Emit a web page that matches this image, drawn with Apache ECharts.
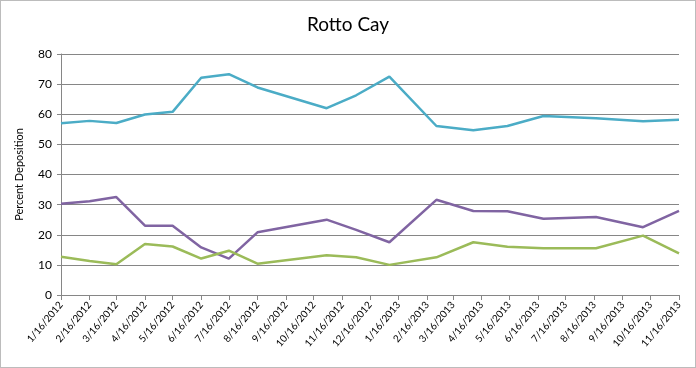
<!DOCTYPE html>
<html>
<head>
<meta charset="utf-8">
<script src="https://cdn.jsdelivr.net/npm/echarts@6/dist/echarts.min.js"></script>
<style>
html,body{margin:0;padding:0;background:#fff;}
#wrap{position:absolute;left:0;top:0;width:694px;height:366px;border:1px solid #bcbcbc;}
#chart{width:694px;height:366px;}
</style>
</head>
<body>
<div id="wrap"><div id="chart"></div></div>
<script>
// Sampling dates (x values)
const sampleDates = ['2012-01-16','2012-02-16','2012-03-16','2012-04-16','2012-05-16','2012-06-16','2012-07-16','2012-08-16','2012-10-30','2012-12-01','2013-01-06','2013-02-26','2013-04-07','2013-05-14','2013-06-22','2013-08-18','2013-10-08','2013-11-16'];
// Series values
const blueVals   = [57.0,57.8,57.1,59.9,60.8,72.1,73.3,68.9,62.0,66.3,72.5,56.1,54.7,56.1,59.4,58.7,57.7,58.2];
const purpleVals = [30.3,31.1,32.5,23.0,23.0,15.8,12.1,20.8,25.0,21.6,17.5,31.6,27.9,27.8,25.3,25.9,22.5,27.9];
const greenVals  = [12.7,11.3,10.2,16.9,16.1,12.1,14.7,10.4,13.2,12.5,10.0,12.5,17.5,16.0,15.5,15.5,19.7,13.8];
// Tick labels on the date axis
const tickLabels = ['1/16/2012','2/16/2012','3/16/2012','4/16/2012','5/16/2012','6/16/2012','7/16/2012','8/16/2012','9/16/2012','10/16/2012','11/16/2012','12/16/2012','1/16/2013','2/16/2013','3/16/2013','4/16/2013','5/16/2013','6/16/2013','7/16/2013','8/16/2013','9/16/2013','10/16/2013','11/16/2013'];

const DAY = 86400000;
function isoToDay(s){const p=s.split('-').map(Number);return Math.round(Date.UTC(p[0],p[1]-1,p[2])/DAY);}
function mdyToDay(s){const p=s.split('/').map(Number);return Math.round(Date.UTC(p[2],p[0]-1,p[1])/DAY);}
const xs = sampleDates.map(isoToDay);
const tickDays = tickLabels.map(mdyToDay);
function pair(vals){return vals.map((v,i)=>[xs[i],v]);}
function dayToLabel(v){const d=new Date(v*DAY);return (d.getUTCMonth()+1)+'/'+d.getUTCDate()+'/'+d.getUTCFullYear();}

const font = 'Lato, "Liberation Sans", sans-serif';
const chart = echarts.init(document.getElementById('chart'));
chart.setOption({
  animation:false,
  backgroundColor:'#fff',
  title:{text:'Rotto Cay',left:'center',top:9,textStyle:{fontFamily:font,fontSize:19,fontWeight:'normal',color:'#000'}},
  grid:{left:60,right:16,top:53,bottom:72,containLabel:false},
  xAxis:{
    type:'value',
    min:tickDays[0],max:tickDays[tickDays.length-1],
    axisLine:{lineStyle:{color:'#868686',width:1}},
    axisTick:{show:true,customValues:tickDays,length:5,lineStyle:{color:'#868686'}},
    axisLabel:{customValues:tickDays,rotate:50,margin:8,fontFamily:font,fontSize:10,color:'#000',
      formatter:function(v){return dayToLabel(v);}},
    splitLine:{show:false}
  },
  yAxis:{
    type:'value',min:0,max:80,interval:10,
    name:'Percent Deposition',nameLocation:'middle',nameGap:36,
    nameTextStyle:{fontFamily:font,fontSize:11,color:'#000'},
    axisLine:{show:true,lineStyle:{color:'#868686'}},
    axisTick:{show:true,length:4,lineStyle:{color:'#868686'}},
    axisLabel:{fontFamily:font,fontSize:12,color:'#000',margin:9},
    splitLine:{lineStyle:{color:'#868686',width:1}}
  },
  series:[
    {type:'line',data:pair(blueVals),showSymbol:false,lineStyle:{color:'#4BACC6',width:2.5},itemStyle:{color:'#4BACC6'}},
    {type:'line',data:pair(purpleVals),showSymbol:false,lineStyle:{color:'#8064A2',width:2.5},itemStyle:{color:'#8064A2'}},
    {type:'line',data:pair(greenVals),showSymbol:false,lineStyle:{color:'#9BBB59',width:2.5},itemStyle:{color:'#9BBB59'}}
  ]
});
</script>
</body>
</html>
